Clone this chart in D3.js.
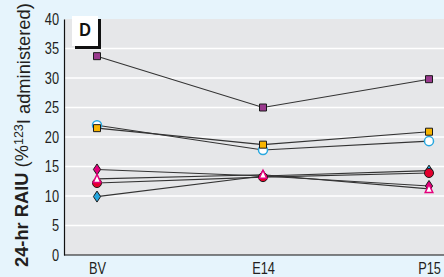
<!DOCTYPE html>
<html>
<head>
<meta charset="utf-8">
<script src="https://cdn.jsdelivr.net/npm/d3@7"></script>
<style>
  body { margin: 0; background: #e6f4fc; }
  svg { display: block; font-family: "Liberation Sans", Arial, sans-serif; }
</style>
</head>
<body>
<div class="chart"></div>
<script>
// data
var timepoints = ["BV", "E14", "P15"];
var yTicks = [0, 5, 10, 15, 20, 25, 30, 35, 40];
var purpleSquare = [33.7, 25.0, 29.8];
var orangeSquare = [21.5, 18.7, 20.9];
var openCircle = [22.0, 17.8, 19.3];
var blueDiamond = [9.9, 13.4, 14.3];
var magentaDiamond = [14.5, 13.4, 11.7];
var redCircle = [12.2, 13.2, 13.9];
var pinkTriangle = [12.9, 13.6, 11.2];

var width = 444, height = 277;
var squeeze = 0.8; // condensed look for the labels

// series in drawing order (bottom first)
var series = [
    {values: blueDiamond, shape: "diamond", fill: "#25a6de", stroke: "#1a1a1a"},
    {values: magentaDiamond, shape: "diamond", fill: "#e4007c", stroke: "#1a1a1a"},
    {values: redCircle, shape: "circle", fill: "#e3002d", stroke: "#1a1a1a"},
    {values: pinkTriangle, shape: "triangle", fill: "#ffffff", stroke: "#e4007c"},
    {values: openCircle, shape: "circle", fill: "#ffffff", stroke: "#29a8df"},
    {values: orangeSquare, shape: "square", fill: "#f7b400", stroke: "#1a1a1a"},
    {values: purpleSquare, shape: "square", fill: "#9a3a8e", stroke: "#1a1a1a"}
];

var plot = {left: 64, right: 444, top: 19, bottom: 255};

var x = d3.scalePoint()
    .domain(timepoints)
    .range([97, 429]);

var y = d3.scaleLinear()
    .domain([0, 40])
    .range([plot.bottom, plot.top]);

var svg = d3.select("div.chart")
    .append("svg")
    .attr("width", width)
    .attr("height", height);

svg.append("rect")
    .attr("width", width).attr("height", height)
    .attr("fill", "#e6f4fc");

// plot background
svg.append("rect")
    .attr("x", plot.left).attr("y", plot.top)
    .attr("width", plot.right - plot.left)
    .attr("height", plot.bottom - plot.top)
    .attr("fill", "#e6e7e9");

// grid lines
svg.append("g")
    .selectAll("line")
    .data(yTicks.filter(function (d) { return d > 0 && d < 40; }))
    .enter().append("line")
    .attr("x1", plot.left).attr("x2", plot.right)
    .attr("y1", function (d) { return y(d); })
    .attr("y2", function (d) { return y(d); })
    .attr("stroke", "#ffffff")
    .attr("stroke-width", 1.5);

// y axis
var yAxis = svg.append("g")
    .attr("transform", "translate(" + plot.left + ",0)")
    .call(d3.axisLeft(y).tickValues(yTicks).tickSize(0).tickPadding(5));
yAxis.select(".domain").attr("stroke", "#111").attr("stroke-width", 1.2);
yAxis.selectAll("text")
    .attr("fill", "#231f20")
    .attr("x", -5 / squeeze)
    .attr("transform", "scale(" + squeeze + ",1)")
    .style("font-size", "16px")
    .style("font-family", "inherit");

// x axis
var xAxis = svg.append("g")
    .attr("transform", "translate(0," + plot.bottom + ")")
    .call(d3.axisBottom(x).tickSize(0).tickPadding(8));
xAxis.select(".domain").remove();
svg.append("line")
    .attr("x1", plot.left).attr("x2", plot.right)
    .attr("y1", plot.bottom).attr("y2", plot.bottom)
    .attr("stroke", "#111").attr("stroke-width", 1.2);
xAxis.selectAll("text")
    .attr("fill", "#231f20")
    .attr("transform", "scale(" + squeeze + ",1)")
    .style("font-size", "16px")
    .style("font-family", "inherit");

// y axis title, stretched to fill the left edge
var titleG = svg.append("g")
    .attr("transform", "translate(28,267) rotate(-90)");
var title = titleG.append("text")
    .attr("fill", "#231f20")
    .style("font-size", "17.5px");
title.append("tspan").attr("font-weight", "bold").text("24-hr RAIU ");
title.append("tspan").text("(%");
title.append("tspan").attr("dy", "-0.45em").style("font-size", "12px").text("123");
title.append("tspan").attr("dy", "0.45em").text("I administered)");
var titleLen = title.node().getComputedTextLength();
title.attr("transform", "scale(" + (264 / titleLen) + ",1)");

// lines
var line = d3.line()
    .x(function (d, i) { return x(timepoints[i]); })
    .y(function (d) { return y(d); });

svg.append("g")
    .selectAll("path")
    .data(series)
    .enter().append("path")
    .attr("d", function (d) { return line(d.values); })
    .attr("fill", "none")
    .attr("stroke", "#333")
    .attr("stroke-width", 1.1);

// markers
function markerPath(shape) {
    if (shape == "diamond") return "M0,-5.5L3.6,0L0,5.5L-3.6,0Z";
    if (shape == "square") return "M-3.5,-3.5H3.5V3.5H-3.5Z";
    if (shape == "triangle") return "M0,-4.5L3.8,3.5H-3.8Z";
    return d3.symbol().type(d3.symbolCircle).size(64)();
}

series.forEach(function (s) {
    svg.append("g")
        .selectAll("path")
        .data(s.values)
        .enter().append("path")
        .attr("transform", function (d, i) {
            return "translate(" + x(timepoints[i]) + "," + y(d) + ")";
        })
        .attr("d", markerPath(s.shape))
        .attr("fill", s.fill)
        .attr("stroke", s.stroke)
        .attr("stroke-width", s.fill == "#ffffff" ? 1.5 : 1);
});

// panel label
svg.append("rect")
    .attr("x", 75).attr("y", 19).attr("width", 26).attr("height", 30)
    .attr("fill", "#111");
svg.append("rect")
    .attr("x", 72).attr("y", 16).attr("width", 26).attr("height", 30)
    .attr("fill", "#ffffff");
svg.append("text")
    .attr("transform", "translate(85,36) scale(0.85,1)")
    .attr("text-anchor", "middle")
    .attr("font-weight", "bold")
    .style("font-size", "19px")
    .attr("fill", "#111")
    .text("D");
</script>
</body>
</html>
